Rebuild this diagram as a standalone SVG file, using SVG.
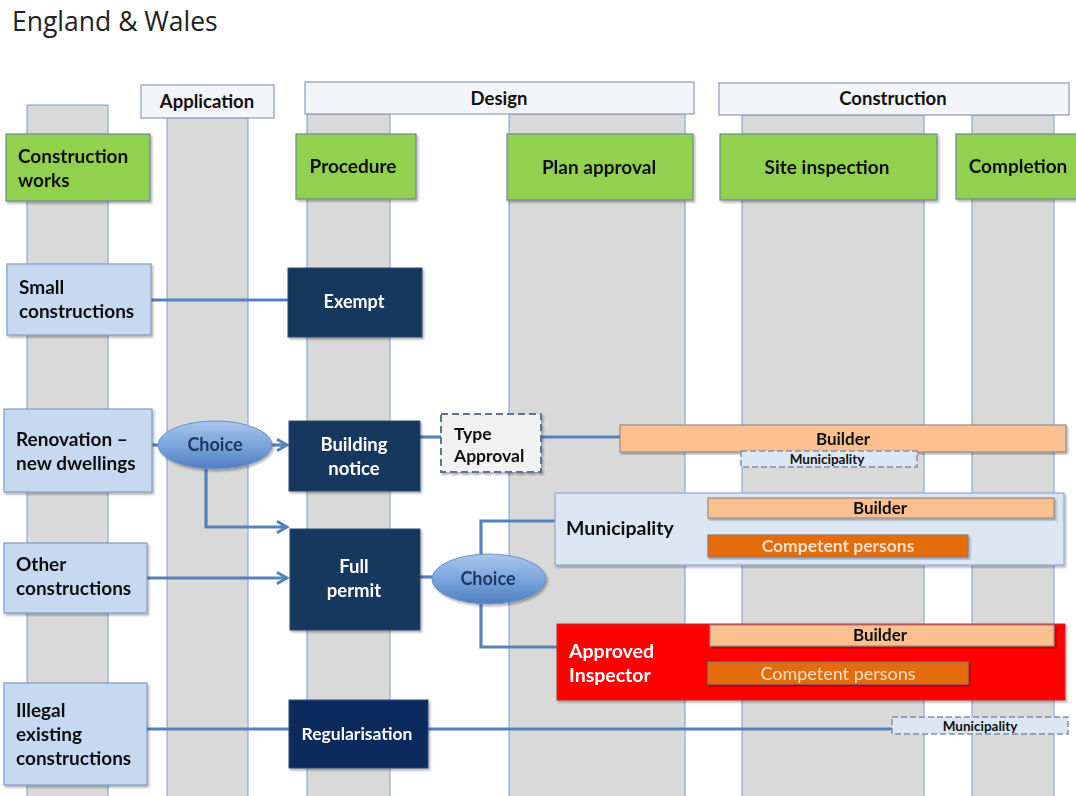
<svg xmlns="http://www.w3.org/2000/svg" width="1076" height="796" viewBox="0 0 1076 796">
<defs>
<style>
text{font-family:Lato,"Open Sans","Liberation Sans",sans-serif;}
.lane{fill:#d9d9d9;stroke:#7f9cc4;stroke-width:1;}
.hdr{fill:#f4f5f9;stroke:#8a9bb5;stroke-width:1.2;}
.grn{fill:#92d050;stroke:#6f8a8f;stroke-width:1.2;}
.lb{fill:#c6d9f1;stroke:#7f9cc4;stroke-width:1.2;}
.dk{fill:#17375e;stroke:#2b4a70;stroke-width:1;}
.bld{fill:#fac090;stroke:#9a8a80;stroke-width:1.2;}
.cp{fill:#e46c0a;stroke:#8f7a70;stroke-width:1.2;}
.b{font-weight:bold;}
.t16{font-size:19px;fill:#111;}
.th{font-size:18.5px;fill:#111;}
.w{fill:#fff;}
.mid{text-anchor:middle;}
.con{fill:none;stroke:#5682bb;stroke-width:3.2;}
.ell{fill:url(#eg);stroke:#6a93c8;stroke-width:1;}
</style>
<linearGradient id="eg" x1="0" y1="0" x2="0" y2="1">
<stop offset="0" stop-color="#a9c6ec"/>
<stop offset="0.5" stop-color="#7ba5dc"/>
<stop offset="1" stop-color="#4f7fc0"/>
</linearGradient>
<marker id="ah" viewBox="0 0 10 10" refX="8" refY="5" markerWidth="4.5" markerHeight="4.5" orient="auto" markerUnits="strokeWidth">
<path d="M1,1 L8,5 L1,9" fill="none" stroke="#5682bb" stroke-width="2"/>
</marker>
<filter id="sh" x="-5%" y="-5%" width="110%" height="115%">
<feDropShadow dx="1.5" dy="2" stdDeviation="1.2" flood-color="#000" flood-opacity="0.3"/>
</filter>
</defs>
<rect width="1076" height="796" fill="#fff"/>
<text x="12" y="31" style="font-size:26.5px;fill:#222;font-family:'Open Sans','Liberation Sans',sans-serif;">England &amp; Wales</text>

<g id="lanes">
<rect class="lane" x="27" y="105" width="81" height="700"/>
<rect class="lane" x="167" y="118" width="81" height="690"/>
<rect class="lane" x="307" y="114" width="83" height="690"/>
<rect class="lane" x="509" y="114" width="176" height="690"/>
<rect class="lane" x="742" y="115" width="182" height="690"/>
<rect class="lane" x="972" y="115" width="82" height="690"/>
</g>

<g id="headers">
<g id="h-application"><rect class="hdr" x="141" y="85" width="133" height="33"/><text class="b th mid" x="207" y="108">Application</text></g>
<g id="h-design"><rect class="hdr" x="305" y="82" width="389" height="32"/><text class="b th mid" x="499" y="105">Design</text></g>
<g id="h-construction"><rect class="hdr" x="719" y="83" width="350" height="32"/><text class="b th mid" x="893" y="105">Construction</text></g>
</g>

<g id="phases" filter="url(#sh)">
<g id="p-works"><rect class="grn" x="6" y="134" width="144" height="67"/><text class="b t16" x="18" y="163">Construction</text><text class="b t16" x="18" y="187">works</text></g>
<g id="p-procedure"><rect class="grn" x="296" y="134" width="120" height="65"/><text class="b t16 mid" x="353" y="173">Procedure</text></g>
<g id="p-plan"><rect class="grn" x="507" y="134" width="186" height="66"/><text class="b t16 mid" x="599" y="174">Plan approval</text></g>
<g id="p-site"><rect class="grn" x="720" y="134" width="217" height="66"/><text class="b t16 mid" x="827" y="174">Site inspection</text></g>
<g id="p-completion"><rect class="grn" x="956" y="134" width="124" height="65"/><text class="b t16 mid" x="1018" y="173">Completion</text></g>
</g>

<g id="connectors">
<line class="con" x1="151" y1="300" x2="288" y2="300"/>
<line class="con" x1="152" y1="445" x2="160" y2="445"/>
<line class="con" x1="270" y1="445" x2="287" y2="445" marker-end="url(#ah)"/>
<polyline class="con" points="206,468 206,527 287,527" marker-end="url(#ah)"/>
<line class="con" x1="147" y1="578" x2="287" y2="578" marker-end="url(#ah)"/>
<line class="con" x1="420" y1="577" x2="434" y2="577"/>
<polyline class="con" points="481,555 481,521 556,521"/>
<polyline class="con" points="481,604 481,647 558,647"/>
<line class="con" x1="420" y1="437" x2="441" y2="437"/>
<line class="con" x1="541" y1="437" x2="620" y2="437"/>
<line class="con" x1="147" y1="729" x2="289" y2="729"/>
<line class="con" x1="427" y1="729" x2="893" y2="729"/>
</g>

<g id="nodes">
<g id="small" filter="url(#sh)"><rect class="lb" x="7" y="264" width="144" height="71"/><text class="b t16" x="19" y="294">Small</text><text class="b t16" x="19" y="318">constructions</text></g>
<g id="exempt" filter="url(#sh)"><rect class="dk" x="288" y="268" width="134" height="69"/><text class="b mid w" x="354" y="308" style="font-size:18px;">Exempt</text></g>

<g id="renovation" filter="url(#sh)"><rect class="lb" x="4" y="409" width="148" height="83"/><text class="b t16" x="16" y="446">Renovation –</text><text class="b t16" x="16" y="470">new dwellings</text></g>
<g id="choice1" filter="url(#sh)"><ellipse class="ell" cx="215" cy="445" rx="57" ry="24"/><text class="b mid" x="215" y="451" style="font-size:18px;fill:#1f3864;">Choice</text></g>
<g id="bnotice" filter="url(#sh)"><rect class="dk" x="289" y="421" width="131" height="70"/><text class="b mid w" x="354" y="451" style="font-size:18.5px;">Building</text><text class="b mid w" x="354" y="475" style="font-size:18.5px;">notice</text></g>
<g id="typeapproval" filter="url(#sh)"><rect x="441" y="414" width="100" height="58" fill="#f2f2f2" stroke="#5e7290" stroke-width="2" stroke-dasharray="7,4"/><text class="b" x="454" y="440" style="font-size:17.5px;fill:#111;">Type</text><text class="b" x="454" y="462" style="font-size:17.5px;fill:#111;">Approval</text></g>
<g id="builder1" filter="url(#sh)"><rect class="bld" x="620" y="425" width="446" height="27"/><text class="b mid" x="843" y="445" style="font-size:17px;fill:#111;">Builder</text></g>
<g id="muni-small1"><rect x="741" y="451" width="176" height="16" fill="#dce6f2" stroke="#7e8ea6" stroke-width="1.5" stroke-dasharray="6,3"/><text class="b mid" x="827" y="463.5" style="font-size:13.5px;fill:#111;">Municipality</text></g>

<g id="municipality" filter="url(#sh)"><rect x="555" y="493" width="509" height="72" fill="#dce6f2" stroke="#8ea9d0" stroke-width="1.2"/><text class="b" x="566" y="535" style="font-size:19.5px;fill:#111;">Municipality</text></g>
<g id="builder2" filter="url(#sh)"><rect class="bld" x="708" y="498" width="346" height="20"/><text class="b mid" x="880" y="514" style="font-size:17px;fill:#111;">Builder</text></g>
<g id="cp1" filter="url(#sh)"><rect class="cp" x="708" y="535" width="260" height="22"/><text class="b mid" x="838" y="552" style="font-size:17.5px;fill:#fde0c8;">Competent persons</text></g>

<g id="other" filter="url(#sh)"><rect class="lb" x="4" y="543" width="143" height="70"/><text class="b t16" x="16" y="571">Other</text><text class="b t16" x="16" y="595">constructions</text></g>
<g id="fullpermit" filter="url(#sh)"><rect class="dk" x="290" y="529" width="130" height="101"/><text class="b mid w" x="354" y="573" style="font-size:18.5px;">Full</text><text class="b mid w" x="354" y="597" style="font-size:18.5px;">permit</text></g>
<g id="choice2" filter="url(#sh)"><ellipse class="ell" cx="489" cy="579" rx="57" ry="25"/><text class="b mid" x="488" y="585" style="font-size:18px;fill:#1f3864;">Choice</text></g>

<g id="approved" filter="url(#sh)"><rect x="557" y="624" width="508" height="76" fill="#ff0000" stroke="#c03030" stroke-width="1"/><text class="b" x="569" y="658" style="font-size:19.5px;fill:#fff;">Approved</text><text class="b" x="569" y="682" style="font-size:19.5px;fill:#fff;">Inspector</text></g>
<g id="builder3" filter="url(#sh)"><rect class="bld" x="710" y="625" width="344" height="21"/><text class="b mid" x="880" y="641" style="font-size:17px;fill:#111;">Builder</text></g>
<g id="cp2" filter="url(#sh)"><rect class="cp" x="708" y="662" width="260" height="22"/><text class="mid" x="838" y="680" style="font-size:18px;fill:#fde0c8;">Competent persons</text></g>

<g id="illegal" filter="url(#sh)"><rect class="lb" x="4" y="683" width="143" height="102"/><text class="b t16" x="16" y="717">Illegal</text><text class="b t16" x="16" y="741">existing</text><text class="b t16" x="16" y="765">constructions</text></g>
<g id="regularisation" filter="url(#sh)"><rect x="289" y="700" width="139" height="68" fill="#0d2a5e" stroke="#2b4a70" stroke-width="1"/><text class="b mid w" x="357" y="740" style="font-size:17.5px;">Regularisation</text></g>
<g id="muni-small2"><rect x="892" y="717" width="176" height="17" fill="#dce6f2" stroke="#7e8ea6" stroke-width="1.5" stroke-dasharray="6,3"/><text class="b mid" x="980" y="730.5" style="font-size:13.5px;fill:#111;">Municipality</text></g>
</g>
</svg>
